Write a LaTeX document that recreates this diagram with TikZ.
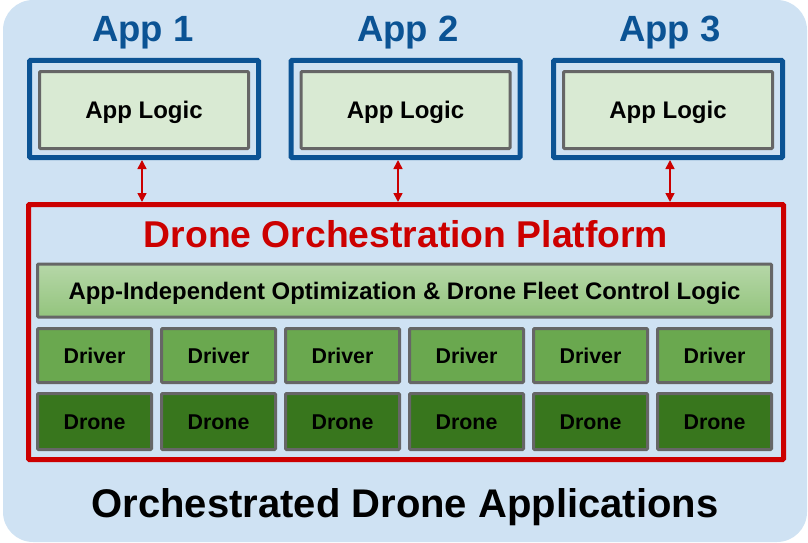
\documentclass[tikz,border=0pt]{standalone}
\usepackage{fontspec}
\setmainfont{Liberation Sans}
\usetikzlibrary{arrows.meta}

\definecolor{bgblue}{HTML}{CFE2F3}
\definecolor{appblue}{HTML}{0B5394}
\definecolor{platred}{HTML}{CC0000}
\definecolor{boxgray}{HTML}{666666}
\definecolor{logicgreen}{HTML}{D9EAD3}
\definecolor{optTop}{HTML}{B6D7A8}
\definecolor{optBot}{HTML}{93C47D}
\definecolor{drivergreen}{HTML}{6AA84F}
\definecolor{dronegreen}{HTML}{38761D}

\tikzset{
  x=1pt, y=-1pt,
  box/.style={draw, rectangle, inner sep=0pt, outer sep=0pt, text depth=0pt, rounded corners=1pt},
  appframe/.style={box, draw=appblue, line width=5pt, minimum width=229pt, minimum height=97pt},
  logicbox/.style={box, draw=boxgray, fill=logicgreen, line width=3pt, minimum width=209pt, minimum height=77pt,
                   font=\fontsize{24}{27}\bfseries\selectfont, text height=17.2pt},
  apptitle/.style={anchor=base, text=appblue, font=\fontsize{36.5}{40}\bfseries\selectfont, inner sep=0pt},
  cellbox/.style={box, draw=boxgray, line width=3pt, minimum width=114pt,
                  font=\fontsize{21.4}{24}\bfseries\selectfont, text height=15.3pt},
  driverbox/.style={cellbox, fill=drivergreen, minimum height=54pt},
  dronebox/.style={cellbox, fill=dronegreen, minimum height=56pt},
  link/.style={draw=platred, line width=1.5pt,
               {Triangle[length=9pt,width=9pt]}-{Triangle[length=9pt,width=9pt]}},
}

\begin{document}
\begin{tikzpicture}
  \useasboundingbox (0,0) rectangle (808,543);

  % backdrop panel
  \fill[bgblue, rounded corners=30pt] (3,0) rectangle (807,542);

  % the three applications
  \foreach \i/\cx/\lx in {1/144/143, 2/405.5/408, 3/668/670} {
    \node[appframe] (app\i) at (\cx,109) {};
    \node[logicbox] (logic\i) at (\cx,110) {App Logic};
    \node[apptitle] (title\i) at (\lx,42) {App \i};
  }

  % platform frame
  \node[box, draw=platred, line width=5pt,
        minimum width=755pt, minimum height=255pt] (platform) at (406,332) {};
  \node[anchor=base, text=platred, inner sep=0pt, font=\fontsize{37.3}{40}\bfseries\selectfont]
        (ptitle) at (406,247) {Drone Orchestration Platform};

  % shared control layer
  \node[box, draw=boxgray, line width=3pt, top color=optTop, bottom color=optBot,
        minimum width=734pt, minimum height=53pt, text height=17.1pt,
        font=\fontsize{23.9}{27}\bfseries\selectfont] (opt) at (404.5,290.5) {App-Independent Optimization \& Drone Fleet Control Logic};

  % drivers and drones
  \foreach \k in {0,...,5} {
    \pgfmathsetmacro{\cx}{94.5+124*\k}
    \node[driverbox] (driver\k) at (\cx,355.5) {Driver};
    \node[dronebox] (drone\k) at (\cx,421.5) {Drone};
  }

  % application <-> platform links
  \coordinate (p1) at (142,202);
  \coordinate (p2) at (398,202);
  \coordinate (p3) at (670,202);
  \draw[link] (app1.south -| p1) ++(0,2.5) -- (p1);
  \draw[link] (app2.south -| p2) ++(0,2.5) -- (p2);
  \draw[link] (app3.south -| p3) ++(0,2.5) -- (p3);

  % caption
  \node[anchor=base, inner sep=0pt, font=\fontsize{40}{44}\bfseries\selectfont]
        (caption) at (405,517) {Orchestrated Drone Applications};
\end{tikzpicture}
\end{document}
